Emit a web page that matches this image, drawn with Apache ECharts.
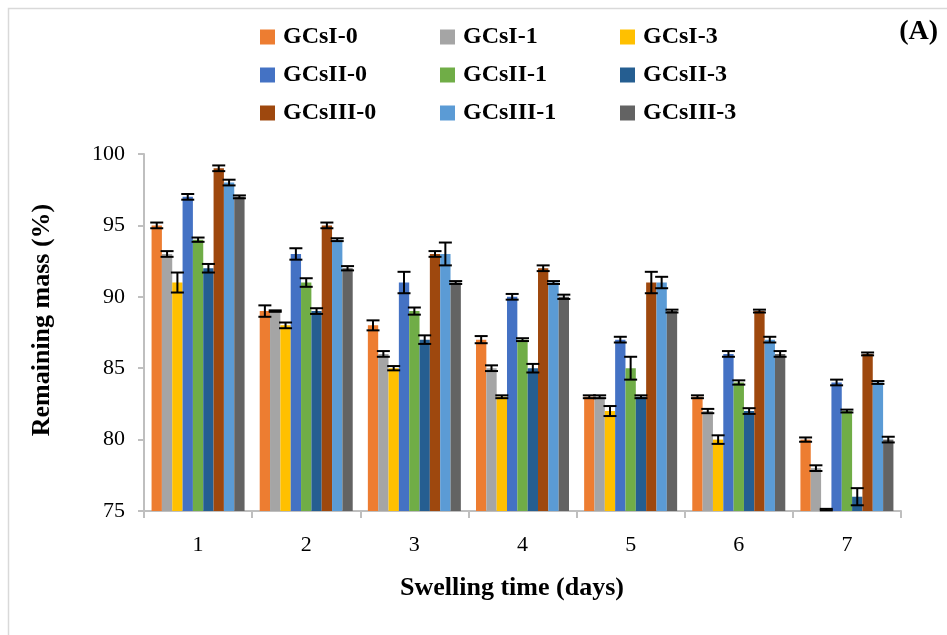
<!DOCTYPE html>
<html>
<head>
<meta charset="utf-8">
<script src="https://cdn.jsdelivr.net/npm/echarts@6/dist/echarts.min.js"></script>
<style>
  html, body { margin: 0; padding: 0; background: #fff; }
  #chart { width: 947px; height: 635px; }
</style>
</head>
<body>
<div id="chart"></div>
<script>
// Swelling time categories (days)
const days = ['1', '2', '3', '4', '5', '6', '7'];

// Remaining mass (%) for each formulation
const gcsI0   = [95, 89, 88, 87, 83, 83, 80];
const gcsI1   = [93, 89, 86, 85, 83, 82, 78];
const gcsI3   = [91, 88, 85, 83, 82, 80, 75.1];
const gcsII0  = [97, 93, 91, 90, 87, 86, 84];
const gcsII1  = [94, 91, 89, 87, 85, 84, 82];
const gcsII3  = [92, 89, 87, 85, 83, 82, 76];
const gcsIII0 = [99, 95, 93, 92, 91, 89, 86];
const gcsIII1 = [98, 94, 93, 91, 91, 87, 84];
const gcsIII3 = [97, 92, 91, 90, 89, 86, 80];

// Standard deviations (± error bars)
const sdI0   = [0.2, 0.4, 0.35, 0.25, 0.1, 0.1, 0.15];
const sdI1   = [0.2, 0.05, 0.2, 0.2, 0.1, 0.15, 0.2];
const sdI3   = [0.7, 0.2, 0.15, 0.1, 0.35, 0.3, 0.05];
const sdII0  = [0.2, 0.4, 0.75, 0.2, 0.2, 0.2, 0.2];
const sdII1  = [0.15, 0.3, 0.25, 0.1, 0.8, 0.15, 0.1];
const sdII3  = [0.3, 0.2, 0.3, 0.3, 0.1, 0.2, 0.6];
const sdIII0 = [0.2, 0.2, 0.2, 0.2, 0.75, 0.1, 0.1];
const sdIII1 = [0.2, 0.1, 0.8, 0.1, 0.4, 0.2, 0.1];
const sdIII3 = [0.1, 0.15, 0.1, 0.15, 0.1, 0.2, 0.2];

// Y axis ticks
const yMin = 75, yMax = 100, yStep = 5;

const seriesNames = ['GCsI-0', 'GCsI-1', 'GCsI-3', 'GCsII-0', 'GCsII-1', 'GCsII-3', 'GCsIII-0', 'GCsIII-1', 'GCsIII-3'];
const seriesValues = [gcsI0, gcsI1, gcsI3, gcsII0, gcsII1, gcsII3, gcsIII0, gcsIII1, gcsIII3];
const seriesSd = [sdI0, sdI1, sdI3, sdII0, sdII1, sdII3, sdIII0, sdIII1, sdIII3];
const colors = ['#ED7D31', '#A5A5A5', '#FFC000', '#4472C4', '#70AD47', '#255E91', '#9E480E', '#5B9BD5', '#636363'];

const FONT = '"Liberation Serif", "Times New Roman", serif';
const CAT_GAP = 0.14;
const nSeries = seriesNames.length;

const barSeries = seriesNames.map((name, i) => ({
  name: name,
  type: 'bar',
  data: seriesValues[i],
  itemStyle: { color: colors[i] },
  barGap: '0%',
  barCategoryGap: (CAT_GAP * 100) + '%',
  emphasis: { disabled: true }
}));

// Error bar data: [categoryIndex, seriesIndex, low, high]
const errData = [];
seriesValues.forEach((vals, s) => {
  vals.forEach((v, c) => {
    errData.push([c, s, v - seriesSd[s][c], v + seriesSd[s][c]]);
  });
});

const errorSeries = {
  type: 'custom',
  name: 'error',
  data: errData,
  z: 10,
  silent: true,
  encode: { x: 0, y: [2, 3] },
  renderItem: function (params, api) {
    const c = api.value(0), s = api.value(1);
    const catW = api.size([1, 0])[0];
    const barW = catW * (1 - CAT_GAP) / nSeries;
    const lowP = api.coord([c, api.value(2)]);
    const highP = api.coord([c, api.value(3)]);
    const x = lowP[0] - (nSeries * barW) / 2 + barW * (s + 0.5);
    const half = 6.5;
    const style = { stroke: '#000', lineWidth: 2 };
    return {
      type: 'group',
      children: [
        { type: 'line', shape: { x1: x, y1: highP[1], x2: x, y2: lowP[1] }, style: style },
        { type: 'line', shape: { x1: x - half, y1: highP[1], x2: x + half, y2: highP[1] }, style: style },
        { type: 'line', shape: { x1: x - half, y1: lowP[1], x2: x + half, y2: lowP[1] }, style: style }
      ]
    };
  }
};

function legendColumn(names, left) {
  return {
    data: names,
    orient: 'vertical',
    left: left,
    top: 20,
    itemWidth: 15,
    itemHeight: 15,
    itemGap: 14,
    icon: 'rect',
    selectedMode: false,
    textStyle: { fontFamily: FONT, fontSize: 24, fontWeight: 'bold', color: '#000', padding: [0, 0, 0, 3] }
  };
}

const chart = echarts.init(document.getElementById('chart'), null, { renderer: 'canvas' });
chart.setOption({
  backgroundColor: '#fff',
  animation: false,
  color: colors,
  grid: { left: 144, top: 154, width: 757, height: 357, containLabel: false },
  legend: [
    legendColumn(['GCsI-0', 'GCsII-0', 'GCsIII-0'], 255),
    legendColumn(['GCsI-1', 'GCsII-1', 'GCsIII-1'], 435),
    legendColumn(['GCsI-3', 'GCsII-3', 'GCsIII-3'], 615)
  ],
  graphic: [
    {
      type: 'rect',
      shape: { x: 8.5, y: 8.5, width: 1000, height: 700 },
      style: { fill: 'none', stroke: '#d9d9d9', lineWidth: 1.5 },
      silent: true
    },
    {
      type: 'text',
      x: 938,
      y: 32,
      style: { text: '(A)', fontFamily: FONT, fontSize: 28, fontWeight: 'bold', fill: '#000', textAlign: 'right', textVerticalAlign: 'middle' }
    },
    {
      type: 'text',
      x: 512,
      y: 588,
      style: { text: 'Swelling time (days)', fontFamily: FONT, fontSize: 26, fontWeight: 'bold', fill: '#000', textAlign: 'center', textVerticalAlign: 'middle' }
    },
    {
      type: 'text',
      x: 42,
      y: 320,
      rotation: Math.PI / 2,
      style: { text: 'Remaining mass (%)', fontFamily: FONT, fontSize: 26, fontWeight: 'bold', fill: '#000', textAlign: 'center', textVerticalAlign: 'middle' }
    }
  ],
  xAxis: {
    type: 'category',
    data: days,
    axisLine: { lineStyle: { color: '#bfbfbf', width: 2 } },
    axisTick: { show: true, length: 7, lineStyle: { color: '#bfbfbf', width: 2 } },
    axisLabel: { fontFamily: FONT, fontSize: 22, color: '#000', margin: 23 },
    splitLine: { show: false }
  },
  yAxis: {
    type: 'value',
    min: yMin,
    max: yMax,
    interval: yStep,
    axisLine: { show: true, lineStyle: { color: '#bfbfbf', width: 2 } },
    axisTick: { show: true, length: 6, lineStyle: { color: '#bfbfbf', width: 2 } },
    axisLabel: { fontFamily: FONT, fontSize: 22, color: '#000', margin: 19 },
    splitLine: { show: false }
  },
  series: barSeries.concat([errorSeries])
});
</script>
</body>
</html>
